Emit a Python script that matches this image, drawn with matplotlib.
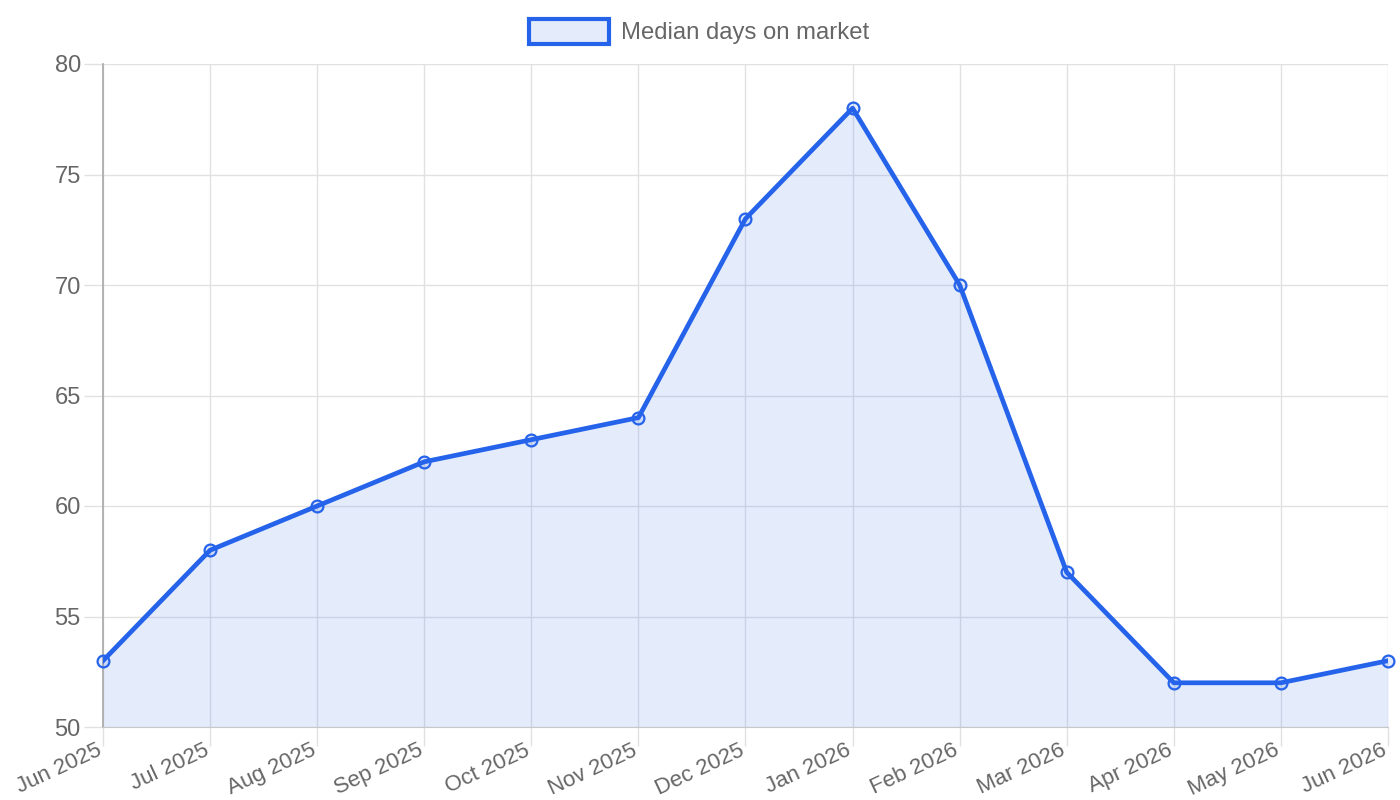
import matplotlib.pyplot as plt
import matplotlib.transforms as mtransforms
from matplotlib.patches import Rectangle

months = ["Jun 2025", "Jul 2025", "Aug 2025", "Sep 2025", "Oct 2025", "Nov 2025",
          "Dec 2025", "Jan 2026", "Feb 2026", "Mar 2026", "Apr 2026", "May 2026", "Jun 2026"]
days = [53, 58, 60, 62, 63, 64, 73, 78, 70, 57, 52, 52, 53]
yticks = [50, 55, 60, 65, 70, 75, 80]

blue = "#2563eb"
fill = (37/255, 99/255, 235/255, 0.12)
grid = "#e1e1e1"
txt = "#666666"

plt.rcParams['font.family'] = ['Liberation Sans', 'DejaVu Sans']

fig = plt.figure(figsize=(14, 8), dpi=100)
ax = fig.add_axes([103/1400, 1 - 727/800, (1388 - 103)/1400, (727 - 64)/800])

x = list(range(len(months)))
ax.fill_between(x, days, 50, color=fill, linewidth=0, zorder=2)
ax.plot(x, days, color=blue, linewidth=3.4, zorder=3)
ax.plot(x, days, 'o', markersize=8.5, markerfacecolor=fill, markeredgecolor=blue,
        markeredgewidth=1.6, zorder=4, clip_on=False)

ax.set_xlim(0, len(months) - 1)
ax.set_ylim(50, 80)
ax.set_yticks(yticks)
ax.set_xticks(x)
ax.set_xticklabels(months, rotation=25, ha='right', va='top', rotation_mode='anchor')
ax.grid(True, color=grid, linewidth=1, zorder=0)
ax.set_axisbelow(True)
ax.tick_params(axis='both', colors=grid, labelcolor=txt, length=14, width=1)
ax.tick_params(axis='x', pad=-4.6, labelsize=16)
ax.tick_params(axis='y', pad=2, labelsize=17)

# nudge rotated labels so their right end sits on the tick
shift = mtransforms.ScaledTranslation(-7/100, 0, fig.dpi_scale_trans)
for lbl in ax.get_xticklabels():
    lbl.set_transform(lbl.get_transform() + shift)

for s in ['top', 'right']:
    ax.spines[s].set_visible(False)
ax.spines['bottom'].set_color("#c8c8c8")
ax.spines['left'].set_color("#a8a8a8")
ax.spines['left'].set_linewidth(1.2)

# legend
fig.patches.append(Rectangle((529/1400, 1 - 44/800), 80/1400, 25/800, transform=fig.transFigure,
                             facecolor=fill, edgecolor=blue, linewidth=3))
fig.text(621/1400, 1 - 33/800, "Median days on market", color=txt, fontsize=17.2,
         va='center', ha='left')

fig.savefig("out.png", dpi=100)
